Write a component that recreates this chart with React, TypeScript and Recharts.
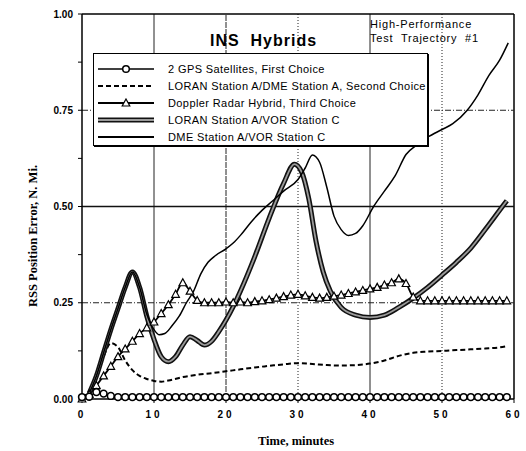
import { LineChart, Line, XAxis, YAxis, ReferenceLine } from "recharts";

// GPS and Doppler are sampled once a minute
const minutes = [
  0, 1, 2, 3, 4, 5, 6, 7, 8, 9, 10, 11, 12, 13, 14, 15, 16, 17, 18, 19, 20, 21,
  22, 23, 24, 25, 26, 27, 28, 29, 30, 31, 32, 33, 34, 35, 36, 37, 38, 39, 40,
  41, 42, 43, 44, 45, 46, 47, 48, 49, 50, 51, 52, 53, 54, 55, 56, 57, 58, 59,
];
const gpsError = [
  0.005, 0.006, 0.018, 0.014, 0.008, 0.005, 0.005, 0.005, 0.005, 0.005, 0.005,
  0.005, 0.005, 0.005, 0.005, 0.005, 0.005, 0.005, 0.005, 0.005, 0.005, 0.005,
  0.005, 0.005, 0.005, 0.005, 0.005, 0.005, 0.005, 0.005, 0.005, 0.005, 0.005,
  0.005, 0.005, 0.005, 0.005, 0.005, 0.005, 0.005, 0.005, 0.005, 0.005, 0.005,
  0.005, 0.005, 0.005, 0.005, 0.005, 0.005, 0.005, 0.005, 0.005, 0.005, 0.005,
  0.005, 0.005, 0.005, 0.005, 0.005,
];
const dopplerError = [
  0.0, 0.012, 0.035, 0.06, 0.085, 0.11, 0.13, 0.15, 0.17, 0.185, 0.2, 0.222,
  0.245, 0.272, 0.302, 0.28, 0.256, 0.25, 0.25, 0.25, 0.252, 0.25, 0.252, 0.25,
  0.253, 0.255, 0.258, 0.262, 0.266, 0.27, 0.272, 0.268, 0.264, 0.262, 0.264,
  0.267, 0.27, 0.274, 0.278, 0.282, 0.286, 0.29, 0.296, 0.302, 0.312, 0.3,
  0.265, 0.255, 0.255, 0.255, 0.255, 0.255, 0.255, 0.255, 0.255, 0.255, 0.255,
  0.255, 0.255, 0.255,
];

const loranDmeTime = [
  0, 1, 2, 3, 4, 5, 6, 7, 8, 9, 10, 11, 12, 14, 16, 18, 20, 22, 24, 26, 28, 30,
  32, 34, 36, 38, 40, 42, 44, 46, 48, 50, 52, 54, 56, 58, 59,
];
const loranDmeError = [
  0.005, 0.02, 0.06, 0.11, 0.145, 0.135, 0.1, 0.075, 0.06, 0.052, 0.047, 0.045,
  0.048, 0.057, 0.063, 0.067, 0.072, 0.077, 0.082, 0.086, 0.09, 0.093, 0.091,
  0.088, 0.087, 0.088, 0.092, 0.1, 0.112, 0.12, 0.123, 0.125, 0.127, 0.129,
  0.131, 0.134, 0.137,
];

const loranVorTime = [
  1, 2, 3, 4, 5, 6, 7, 8, 9, 10, 11, 12, 13, 14, 15, 16, 17, 18, 19, 20, 21, 22,
  24, 26, 28, 29.5, 30.5, 31.5, 32.5, 33.5, 34.5, 36, 38, 40, 42, 44, 46, 48,
  50, 52, 54, 56, 58, 59,
];
const loranVorError = [
  0.015, 0.06, 0.12, 0.18, 0.235, 0.29, 0.33, 0.29, 0.215, 0.155, 0.11, 0.097,
  0.11, 0.14, 0.162, 0.152, 0.14, 0.15, 0.175, 0.205, 0.24, 0.28, 0.37, 0.47,
  0.56, 0.61, 0.59, 0.52, 0.41, 0.33, 0.28, 0.238, 0.218, 0.212, 0.218, 0.238,
  0.262, 0.29, 0.322, 0.355, 0.392, 0.44, 0.49, 0.515,
];

const dmeVorTime = [
  1, 2, 3, 4, 5, 6, 7, 8, 9, 10, 10.7, 11.5, 12.5, 13.5, 14.5, 15.5, 16.5, 17.5,
  18.5, 20, 21, 22, 23.5, 25, 26.5, 28, 30, 31, 32, 33, 34, 35, 36, 37, 38, 39,
  40.5, 42, 43.5, 45, 46.5, 48, 50, 51.5, 53.5, 55, 56.5, 58, 59.2,
];
const dmeVorError = [
  0.015, 0.06, 0.12, 0.18, 0.235, 0.29, 0.33, 0.29, 0.22, 0.18, 0.167, 0.17,
  0.19, 0.215, 0.25, 0.28, 0.325, 0.355, 0.372, 0.39, 0.405, 0.425, 0.46, 0.49,
  0.515, 0.54, 0.57, 0.6, 0.634, 0.615, 0.55, 0.475, 0.44, 0.425, 0.43, 0.45,
  0.5, 0.54, 0.58, 0.635, 0.66, 0.68, 0.7, 0.715, 0.75, 0.79, 0.84, 0.88,
  0.925,
];

const xTicks = [0, 10, 20, 30, 40, 50, 60];
const yTicks = [0, 0.125, 0.25, 0.375, 0.5, 0.625, 0.75, 0.875, 1];
const yLabeled = [0, 0.25, 0.5, 0.75, 1];

const legendLabels = [
  "2 GPS Satellites, First Choice",
  "LORAN Station A/DME Station A, Second Choice",
  "Doppler Radar Hybrid, Third Choice",
  "LORAN Station A/VOR Station C",
  "DME Station A/VOR Station C",
];

const zip = (xs: number[], ys: number[]) =>
  xs.map((t, i) => ({ t, v: ys[i] }));

const gpsData = zip(minutes, gpsError);
const dopplerData = zip(minutes, dopplerError);
const loranDmeData = zip(loranDmeTime, loranDmeError);
const loranVorData = zip(loranVorTime, loranVorError);
const dmeVorData = zip(dmeVorTime, dmeVorError);

const sans = "'Liberation Sans', Arial, sans-serif";
const serif = "'Liberation Serif', 'Times New Roman', serif";

function Triangle(props: any) {
  const { cx, cy, index } = props;
  if (cx == null || cy == null) return <g key={index} />;
  return (
    <path
      key={index}
      d={`M${cx},${cy - 4} L${cx + 3.8},${cy + 3} L${cx - 3.8},${cy + 3} Z`}
      fill="#fff"
      stroke="#000"
      strokeWidth={1.2}
    />
  );
}

function Swatch({ i }: { i: number }) {
  return (
    <svg width={56} height={10} style={{ display: "block" }}>
      {i === 0 && (
        <>
          <line x1={0} y1={5} x2={56} y2={5} stroke="#000" strokeWidth={1.5} />
          <circle cx={28} cy={5} r={3.3} fill="#fff" stroke="#000" strokeWidth={1.5} />
        </>
      )}
      {i === 1 && (
        <line x1={0} y1={5} x2={56} y2={5} stroke="#000" strokeWidth={2} strokeDasharray="5 3" />
      )}
      {i === 2 && (
        <>
          <line x1={0} y1={5} x2={56} y2={5} stroke="#000" strokeWidth={1.8} />
          <path d="M28,1 L31.8,8 L24.2,8 Z" fill="#fff" stroke="#000" strokeWidth={1.2} />
        </>
      )}
      {i === 3 && (
        <>
          <line x1={0} y1={5} x2={56} y2={5} stroke="#111" strokeWidth={5} />
          <line x1={0} y1={5} x2={56} y2={5} stroke="#9a9a9a" strokeWidth={1.8} />
        </>
      )}
      {i === 4 && (
        <line x1={0} y1={5} x2={56} y2={5} stroke="#000" strokeWidth={2.2} />
      )}
    </svg>
  );
}

export default function App() {
  return (
    <div
      style={{
        position: "absolute",
        left: 0,
        top: 0,
        width: 526,
        height: 451,
        background: "#fff",
      }}
    >
      <LineChart
        width={526}
        height={451}
        margin={{ top: 14, right: 12, bottom: 22, left: 42 }}
      >
        <XAxis
          dataKey="t"
          type="number"
          domain={[0, 60]}
          ticks={xTicks}
          axisLine={{ stroke: "#000", strokeWidth: 1.5 }}
          tickLine={{ stroke: "#000" }}
          tickSize={4}
          tickMargin={8}
          height={30}
          tick={{ fontSize: 10, fontWeight: "bold", fill: "#000", fontFamily: sans, letterSpacing: 3 }}
        />
        <YAxis
          dataKey="v"
          type="number"
          domain={[0, 1]}
          ticks={yTicks}
          interval={0}
          width={40}
          tickFormatter={(v: number) => (yLabeled.includes(v) ? v.toFixed(2) : "")}
          axisLine={{ stroke: "#000", strokeWidth: 1.5 }}
          tickLine={{ stroke: "#000" }}
          tickSize={4}
          tickMargin={5}
          tick={{ fontSize: 10, fontWeight: "bold", fill: "#000", fontFamily: sans }}
        />
        <ReferenceLine x={10} stroke="#222" strokeWidth={1} />
        <ReferenceLine x={20} stroke="#222" strokeWidth={1} strokeDasharray="6 1" />
        <ReferenceLine x={30} stroke="#222" strokeWidth={1} strokeDasharray="1 2" />
        <ReferenceLine x={40} stroke="#222" strokeWidth={1} />
        <ReferenceLine x={50} stroke="#222" strokeWidth={1} strokeDasharray="1 2" />
        <ReferenceLine x={60} stroke="#000" strokeWidth={1.5} />
        <ReferenceLine y={0.25} stroke="#222" strokeWidth={1} strokeDasharray="6 2 1 2" />
        <ReferenceLine y={0.5} stroke="#111" strokeWidth={1.5} />
        <ReferenceLine y={0.75} stroke="#222" strokeWidth={1} strokeDasharray="6 2 1 2" />
        <ReferenceLine y={1} stroke="#000" strokeWidth={1.5} />

        <Line
          data={loranDmeData}
          dataKey="v"
          type="monotone"
          stroke="#000"
          strokeWidth={2}
          strokeDasharray="5 3"
          dot={false}
          isAnimationActive={false}
        />
        <Line
          data={dopplerData}
          dataKey="v"
          type="monotone"
          stroke="#000"
          strokeWidth={1.8}
          dot={<Triangle />}
          isAnimationActive={false}
        />
        <Line
          data={loranVorData}
          dataKey="v"
          type="monotone"
          stroke="#111"
          strokeWidth={5}
          dot={false}
          isAnimationActive={false}
        />
        <Line
          data={loranVorData}
          dataKey="v"
          type="monotone"
          stroke="#9a9a9a"
          strokeWidth={1.8}
          dot={false}
          isAnimationActive={false}
        />
        <Line
          data={dmeVorData}
          dataKey="v"
          type="monotone"
          stroke="#000"
          strokeWidth={1.5}
          dot={false}
          isAnimationActive={false}
        />
        <Line
          data={gpsData}
          dataKey="v"
          type="monotone"
          stroke="#000"
          strokeWidth={1.5}
          dot={{ r: 3.4, fill: "#fff", stroke: "#000", strokeWidth: 1.6 }}
          isAnimationActive={false}
        />
      </LineChart>

      <div
        style={{
          position: "absolute",
          left: 210,
          top: 33,
          fontFamily: sans,
          fontWeight: "bold",
          fontSize: 16,
          lineHeight: "16px",
          letterSpacing: 1,
          whiteSpace: "pre",
        }}
      >
        {"INS  Hybrids"}
      </div>
      <div
        style={{
          position: "absolute",
          left: 370,
          top: 17,
          fontFamily: sans,
          fontSize: 11,
          lineHeight: "14px",
          letterSpacing: 0.8,
          whiteSpace: "pre",
        }}
      >
        {"High-Performance\nTest  Trajectory  #1"}
      </div>

      <div
        style={{
          position: "absolute",
          left: 93,
          top: 53,
          width: 335,
          height: 93,
          border: "1.5px solid #000",
          boxShadow: "1px 1px 0 #000",
          background: "#fff",
          paddingTop: 6,
          boxSizing: "border-box",
        }}
      >
        {legendLabels.map((label, i) => (
          <div
            key={label}
            style={{ display: "flex", alignItems: "center", height: 17 }}
          >
            <div style={{ marginLeft: 4, width: 56 }}>
              <Swatch i={i} />
            </div>
            <span
              style={{
                marginLeft: 14,
                fontFamily: sans,
                fontSize: 11,
                letterSpacing: 0.4,
                whiteSpace: "nowrap",
              }}
            >
              {label}
            </span>
          </div>
        ))}
      </div>

      <div
        style={{
          position: "absolute",
          left: 33,
          top: 236,
          transform: "translate(-50%, -50%) rotate(-90deg)",
          fontFamily: serif,
          fontWeight: "bold",
          fontSize: 12.5,
          whiteSpace: "nowrap",
        }}
      >
        RSS Position Error, N. Mi.
      </div>
      <div
        style={{
          position: "absolute",
          left: 296,
          top: 441,
          transform: "translate(-50%, -50%)",
          fontFamily: serif,
          fontWeight: "bold",
          fontSize: 12.5,
          whiteSpace: "nowrap",
        }}
      >
        Time, minutes
      </div>
    </div>
  );
}
